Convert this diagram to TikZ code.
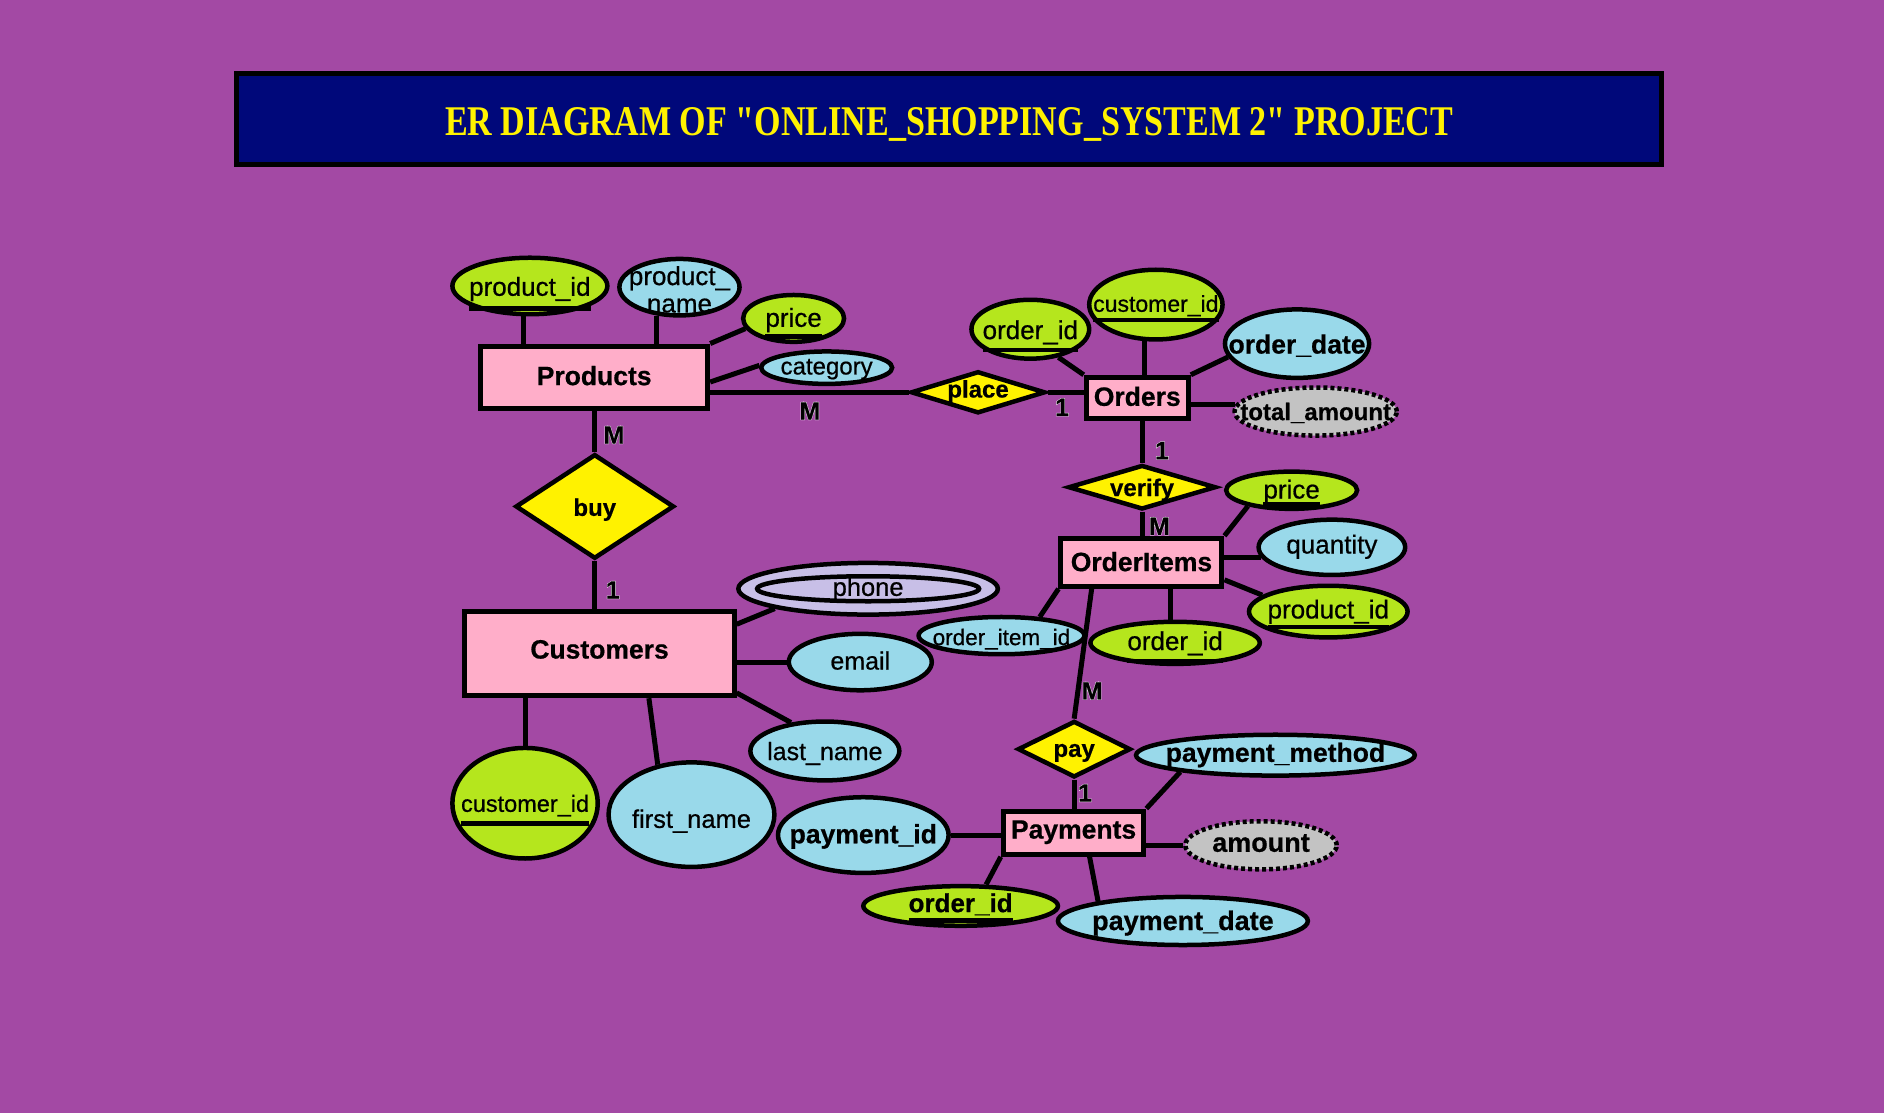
\documentclass[tikz,border=0pt]{standalone}
\usepackage{graphicx}
\usepackage{fontspec}
\setmainfont{Liberation Sans}[BoldFeatures={FakeBold=0.6}]
\newfontfamily\medfont{Liberation Sans}[FakeBold=0.6]
\newfontfamily\halofont{Liberation Sans}[UprightFeatures={FakeBold=4}, BoldFeatures={FakeBold=4}]
\newfontfamily\titlefont{Liberation Serif}
\usetikzlibrary{shapes.geometric,calc}
\pgfdeclarelayer{back}
\pgfsetlayers{back,main}
\definecolor{bgc}{RGB}{163,73,164}
\definecolor{pinkc}{RGB}{255,174,201}
\definecolor{yelc}{RGB}{255,242,0}
\definecolor{limec}{RGB}{181,230,29}
\definecolor{turqc}{RGB}{153,217,234}
\definecolor{lavc}{RGB}{200,191,231}
\definecolor{grayc}{RGB}{195,195,195}
\definecolor{navyc}{RGB}{0,8,122}
\def\un{1.2015pt}
\newcommand\fs[1]{\fontsize{#1}{#1}\selectfont}
% #1 = depth of the baseline below the node centre
\newcommand\B[2]{\raisebox{-\dimexpr#1+1.8pt\relax}[0pt][0pt]{\makebox[0pt]{#2}}}
% key attribute: #1 = bottom of the underline below the baseline
\newcommand\K[2]{\setbox0\hbox{#2}\rlap{\copy0}\raisebox{-#1}{\rule{\wd0}{4.5pt}}}
% black label with a thin white halo
\newcommand\Lb[1]{\rlap{\color{white}\halofont\bfseries #1}#1}
\begin{document}
\begin{tikzpicture}[x=1.2015pt,y=-1.2015pt,
  ent/.style 2 args={rectangle, draw, fill=pinkc, line width=5pt, inner sep=0pt,
    minimum width={(#1-2)*\un}, minimum height={(#2-2)*\un}, font=\fs{26.5}\bfseries},
  rel/.style 2 args={diamond, draw, fill=yelc, line width=4.5pt, inner sep=0pt,
    minimum width={(#1-2)*\un}, minimum height={(#2-2)*\un}, font=\fs{24}\bfseries},
  attr/.style 2 args={ellipse, draw, line width=4.5pt, inner sep=0pt,
    minimum width={(#1-1)*\un}, minimum height={(#2-1)*\un}, font=\fs{26}\medfont},
  key/.style={fill=limec},
  norm/.style={fill=turqc},
  deriv/.style={fill=grayc, dash pattern=on 4pt off 3pt},
  multi/.style={fill=lavc},
  conn/.style={line width=5pt},
  lab/.style={inner sep=0pt, font=\fs{25}\bfseries}
]
\begin{pgfonlayer}{back}
\fill[bgc] (0,0) rectangle (1568,926.4);
\end{pgfonlayer}
\useasboundingbox (0,0) rectangle (1568,926.4);

% title
\node[draw, line width=5pt, fill=navyc, minimum width={(1190-4)*\un}, minimum height={(80-4)*\un}, inner sep=0pt] (title) at (790,99)
  {\raisebox{-16.4pt}[0pt][0pt]{\makebox[0pt]{\resizebox{1008pt}{28pt}{\color{yelc}\titlefont\bfseries ER DIAGRAM OF "ONLINE\_SHOPPING\_SYSTEM 2" PROJECT}}}};

% entities
\node[ent={191}{54}] (products) at (494.5,314) {\B{6pt}{Products}};
\node[ent={87}{36}] (orders) at (946.5,331) {\B{6.3pt}{Orders}};
\node[ent={136}{42}] (oi) at (950,468) {\B{7pt}{OrderItems}};
\node[ent={226}{72}] (cust) at (499,544) {\B{3.1pt}{Customers}};
\node[ent={119}{38}] (paym) at (893.5,693) {\B{4.1pt}{Payments}};

% relationships
\node[rel={114}{37}] (place) at (814,326.5) {\B{3.4pt}{place}};
\node[rel={134}{89}] (buy) at (495,421.5) {\B{7.6pt}{buy}};
\node[rel={125}{39}] (verify) at (950.5,405.5) {\B{7pt}{verify}};
\node[rel={96}{49}] (pay) at (894,623.5) {\B{5.9pt}{pay}};

% attributes of Products
\node[attr={130}{48}, key] (pid) at (441,238) {\B{8pt}{\K{15pt}{product\_id}}};
\node[attr={101}{48}, norm] (pname) at (565.5,239) {\B{-3.9pt}{product\_}\B{23.5pt}{name}};
\node[attr={85}{40}, key] (price) at (660.5,265) {\B{6.6pt}{\K{11.7pt}{price}}};
\node[attr={110}{28}, norm, font=\fs{24}\medfont] (cat) at (688,306) {\B{5pt}{category}};

% attributes of Orders
\node[attr={99}{50}, key] (oid) at (857.5,274) {\B{8.1pt}{\K{13.3pt}{order\_id}}};
\node[attr={112}{59}, key, font=\fs{23}\medfont] (cid) at (962,253.5) {\B{5.4pt}{\K{10.7pt}{customer\_id}}};
\node[attr={121}{58}, norm, font=\fs{26.5}\bfseries] (odate) at (1079.5,286) {\B{8.1pt}{order\_date}};
\node[attr={136}{41}, deriv, font=\fs{24}\bfseries] (tamt) at (1095,342.5) {\B{6.8pt}{total\_amount}};

% attributes of OrderItems
\node[attr={110}{32}, key] (price2) at (1075,408) {\B{6.5pt}{\K{8.3pt}{price}}};
\node[attr={123}{47}, norm] (qty) at (1108.5,455.5) {\B{4.4pt}{quantity}};
\node[attr={133}{44}, key] (pid2) at (1105.5,509) {\B{5.1pt}{\K{10.7pt}{product\_id}}};
\node[attr={142}{36}, key] (oid2) at (978,535) {\B{5.5pt}{\K{13.3pt}{order\_id}}};
\node[attr={139}{32}, norm, font=\fs{22.5}\medfont] (oiid) at (833.5,529) {\B{7.7pt}{order\_item\_id}};

% attributes of Customers
\node[attr={217}{44}, multi, font=\fs{25.5}\medfont,
  path picture={\draw[line width=4.5pt] (path picture bounding box.center) ellipse [x radius=111pt, y radius=12.5pt];}]
  (phone) at (722.5,490) {\B{5.3pt}{phone}};
\node[attr={120}{48}, norm, font=\fs{25}\medfont] (email) at (716,551) {\B{5.7pt}{email}};
\node[attr={125}{50}, norm, font=\fs{25}\medfont] (lname) at (686.5,625) {\B{7.3pt}{last\_name}};
\node[attr={139}{88}, norm, font=\fs{25.5}\medfont] (fname) at (575.5,678) {\B{11.4pt}{first\_name}};
\node[attr={122}{93}, key, font=\fs{23.5}\medfont] (cuid) at (437,668.5) {\B{6.8pt}{\K{14pt}{customer\_id}}};

% attributes of Payments
\node[attr={233}{35}, norm, font=\fs{26.5}\bfseries] (pmeth) at (1061.5,628.5) {\B{4.9pt}{payment\_method}};
\node[attr={143}{64}, norm, font=\fs{26.5}\bfseries] (payid) at (718.5,695) {\B{6.4pt}{payment\_id}};
\node[attr={127}{41}, deriv, font=\fs{27}\bfseries] (amt) at (1049.5,703.5) {\B{4.7pt}{amount}};
\node[attr={163}{34}, key, font=\fs{26}\bfseries] (oid3) at (799.5,754) {\B{4.4pt}{\K{10.7pt}{order\_id}}};
\node[attr={209}{41}, norm, font=\fs{27}\bfseries] (pdate) at (984.5,766.5) {\B{7.3pt}{payment\_date}};

% cardinalities
\node[lab] (c1) at (674,342) {\Lb{M}};
\node[lab] (c2) at (884,339) {\Lb{1}};
\node[lab] (c3) at (511,362) {\Lb{M}};
\node[lab] (c4) at (510,491) {\Lb{1}};
\node[lab] (c5) at (967,375) {\Lb{1}};
\node[lab] (c6) at (965,438) {\Lb{M}};
\node[lab] (c7) at (909,575) {\Lb{M}};
\node[lab] (c8) at (903,660) {\Lb{1}};

% connectors
\begin{pgfonlayer}{back}
\draw[conn] (pid.258) -- (pid.258 |- products.north);
\draw[conn] (pname.231) -- (pname.231 |- products.north);
\draw[conn] (price.192) -- (products.north east);
\draw[conn] (cat.178) -- ($(products.north east)!0.57!(products.south east)$);
\draw[conn] (place.west) -- (place.west -| products.east);
\draw[conn] (buy.north |- products.south) -- (buy.north);
\draw[conn] (buy.south) -- (buy.south |- cust.north);
\draw[conn] (place.east) -- (place.east -| orders.west);
\draw[conn] (oid.315) -- (orders.north west);
\draw[conn] (cid.252) -- (cid.252 |- orders.north);
\draw[conn] (odate.191) -- (orders.north east);
\draw[conn] (tamt.175) -- (tamt.175 -| orders.east);
\draw[conn] (verify.north |- orders.south) -- (verify.north);
\draw[conn] (verify.south) -- (verify.south |- oi.north);
\draw[conn] (price2.200) -- (oi.north east);
\draw[conn] (qty.188) -- (qty.188 -| oi.east);
\draw[conn] (pid2.166) -- ($(oi.north east)!0.83!(oi.south east)$);
\draw[conn] (oid2.101) -- (oid2.101 |- oi.south);
\draw[conn] (oiid.26) -- (oi.south west);
\draw[conn] ($(oi.south west)!0.2!(oi.south east)$) -- (pay.north);
\draw[conn] (phone.192) -- ($(cust.north east)!0.17!(cust.south east)$);
\draw[conn] (email.west) -- (email.west -| cust.east);
\draw[conn] (lname.140) -- ($(cust.north east)!0.94!(cust.south east)$);
\draw[conn] (fname.124) -- ($(cust.south west)!0.68!(cust.south east)$);
\draw[conn] (cuid.north) -- (cuid.north |- cust.south);
\draw[conn] (pay.south) -- (pay.south |- paym.north);
\draw[conn] (pmeth.190) -- (paym.north east);
\draw[conn] (payid.east) -- (payid.east -| paym.west);
\draw[conn] (amt.west) -- (amt.west -| paym.east);
\draw[conn] (oid3.40) -- (paym.south west);
\draw[conn] (pdate.167) -- ($(paym.south west)!0.61!(paym.south east)$);
\end{pgfonlayer}
\end{tikzpicture}
\end{document}
